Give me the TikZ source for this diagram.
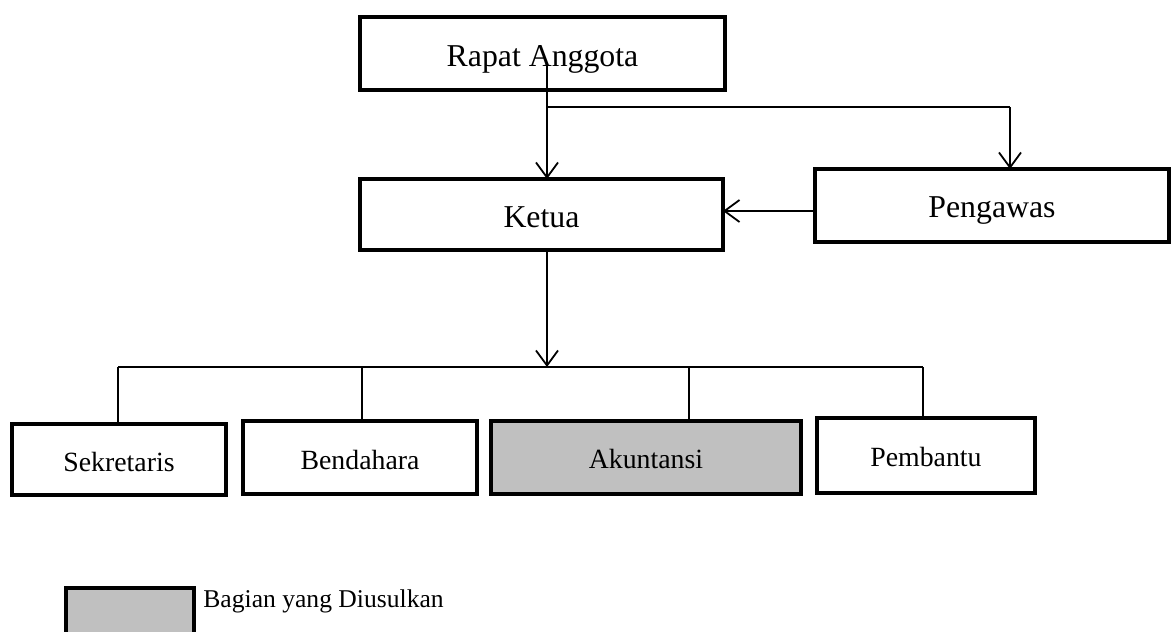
\documentclass[tikz,border=0pt]{standalone}
\usepackage{fontspec}
\setmainfont{Liberation Serif}
\usetikzlibrary{arrows.meta}
\definecolor{propgray}{HTML}{C0C0C0}
\tikzset{
  box/.style={draw=black, line width=2.1pt, rectangle, inner sep=0pt, outer sep=0pt, anchor=center},
  topbox/.style={box, font=\fontsize{15.9}{18}\selectfont, text height=13pt, text depth=0pt},
  lowbox/.style={box, font=\fontsize{13.9}{16}\selectfont, text height=11.5pt, text depth=0pt},
  arr/.style={line width=0.9pt, -{Straight Barb[length=7.5pt, width=11pt, line width=0.9pt]}},
  thin/.style={line width=0.6pt},
}
\begin{document}
\begin{tikzpicture}[x=0.5pt, y=-0.5pt]
\useasboundingbox (0,0) rectangle (1174,632);
\clip (0,0) rectangle (1174,632);
% top boxes
\node[topbox, minimum width=182.5pt, minimum height=36.5pt] (ra) at (542.5,53.5) {Rapat Anggota};
\node[topbox, minimum width=181.5pt, minimum height=35.5pt] (ketua) at (541.5,214.5) {Ketua};
\node[topbox, text height=11.5pt, minimum width=177pt, minimum height=36.5pt] (peng) at (992,205.5) {Pengawas};
% bottom boxes
\node[lowbox, minimum width=107pt, minimum height=35.5pt] (sek) at (119,459.5) {Sekretaris};
\node[lowbox, minimum width=117pt, minimum height=36.5pt] (ben) at (360,457.5) {Bendahara};
\node[lowbox, fill=propgray, text height=10.5pt, minimum width=155pt, minimum height=36.5pt] (aku) at (646,457.5) {Akuntansi};
\node[lowbox, text height=10.5pt, minimum width=109pt, minimum height=37.5pt] (pem) at (926,455.5) {Pembantu};
% legend
\node[box, fill=propgray, minimum width=64pt, minimum height=30pt] (leg) at (130,618) {};
\node[anchor=base west, inner sep=0pt, font=\fontsize{12.8}{15}\selectfont] (legtext) at (203,607) {Bagian yang Diusulkan};
% connectors
\coordinate (raA) at (547,65);
\coordinate (br) at (547,107);
\coordinate (pk) at (1010,107);
\coordinate (hy) at (0,211);
\coordinate (ketA) at (547,252);
\coordinate (busM) at (547,367);
\coordinate (busL) at (118,367);
\coordinate (busB) at (362,367);
\coordinate (busA) at (689,367);
\coordinate (busR) at (923,367);
\draw[arr] (raA) -- (raA |- ketua.north);
\draw[line width=0.9pt] (br) -- (pk);
\draw[arr] (pk) -- (pk |- peng.north);
\draw[arr] (peng.west |- hy) -- (ketua.east |- hy);
\draw[arr] (ketA |- ketua.south) -- (busM);
\draw[thin] (busL) -- (busR);
\draw[thin] (busL) -- (busL |- sek.north);
\draw[thin] (busB) -- (busB |- ben.north);
\draw[thin] (busA) -- (busA |- aku.north);
\draw[thin] (busR) -- (busR |- pem.north);
\end{tikzpicture}
\end{document}
